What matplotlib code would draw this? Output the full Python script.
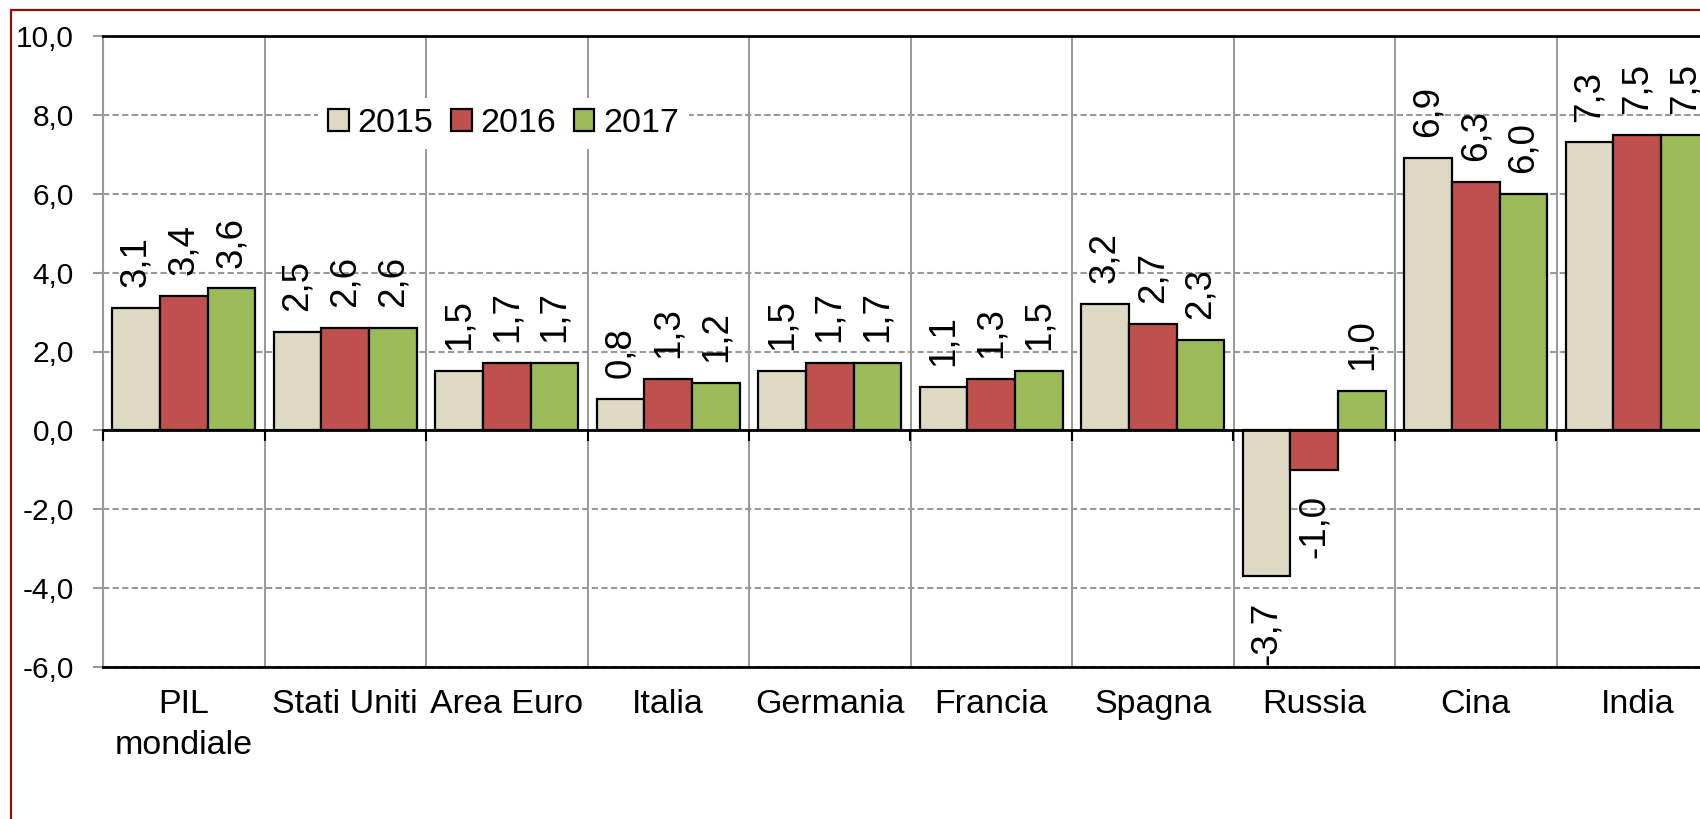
import numpy as np
import matplotlib
matplotlib.use('Agg')
import matplotlib.pyplot as plt
from matplotlib.patches import Rectangle

matplotlib.rcParams['font.family'] = ['Liberation Sans', 'DejaVu Sans']

categories = ['PIL\nmondiale', 'Stati Uniti', 'Area Euro', 'Italia', 'Germania',
              'Francia', 'Spagna', 'Russia', 'Cina', 'India']
years = ['2015', '2016', '2017']
v2015 = [3.1, 2.5, 1.5, 0.8, 1.5, 1.1, 3.2, -3.7, 6.9, 7.3]
v2016 = [3.4, 2.6, 1.7, 1.3, 1.7, 1.3, 2.7, -1.0, 6.3, 7.5]
v2017 = [3.6, 2.6, 1.7, 1.2, 1.7, 1.5, 2.3, 1.0, 6.0, 7.5]
colors = ['#DDD9C3', '#C0504D', '#9BBB59']

W, H = 1700, 819
fig = plt.figure(figsize=(W / 100, H / 100), dpi=100)
ax = fig.add_axes([103 / W, 1 - 667 / H, (1718 - 103) / W, (667 - 36) / H])

x = np.arange(len(categories))
w = 0.295
ymin, ymax = -6, 10

for i, (vals, col, lab) in enumerate(zip([v2015, v2016, v2017], colors, years)):
    bars = ax.bar(x + (i - 1) * w, vals, w, color=col, edgecolor='black',
                  linewidth=1.6, label=lab, zorder=3)
    for b, v in zip(bars, vals):
        cx = b.get_x() + b.get_width() / 2
        txt = f'{v:.1f}'.replace('.', ',')
        if v >= 0:
            ax.annotate(txt, (cx, v), xytext=(0, 15), textcoords='offset points',
                        rotation=90, ha='center', va='bottom', fontsize=26.5, zorder=4)
        else:
            ax.annotate(txt, (cx, v), xytext=(0, -18), textcoords='offset points',
                        rotation=90, ha='center', va='top', fontsize=26.5, zorder=4)

ax.set_xlim(-0.5, len(categories) - 0.5)
ax.set_ylim(ymin, ymax)
ax.set_yticks(np.arange(ymin, ymax + 1, 2))
ax.set_yticklabels([f'{t:.1f}'.replace('.', ',') for t in np.arange(ymin, ymax + 1, 2)],
                   fontsize=21.5)
ax.tick_params(axis='y', length=7, width=1.5, color='#999999', pad=14)

ax.set_xticks(x)
ax.set_xticklabels(categories, fontsize=24.5, linespacing=1.4)
ax.tick_params(axis='x', length=0, pad=16)

# separators between groups
for b in np.arange(-0.5, len(categories), 1.0):
    ax.axvline(b, color='#999999', linewidth=1.4, zorder=1)

ax.yaxis.grid(True, color='#999999', linestyle=(0, (3, 1.6)), linewidth=1.5, zorder=0)
ax.set_axisbelow(True)

for s in ['top', 'bottom']:
    ax.spines[s].set_color('black')
    ax.spines[s].set_linewidth(2)
ax.spines['left'].set_color('#999999')
ax.spines['left'].set_linewidth(1.5)
ax.spines['right'].set_visible(False)

# zero axis with category ticks
zero = ax.secondary_xaxis((0 - ymin) / (ymax - ymin))
zero.set_xticks(np.arange(-0.5, len(categories), 1.0))
zero.set_xticklabels([])
zero.tick_params(axis='x', direction='out', length=8, width=1.5, color='black')
zero.spines['bottom'].set_color('black')
zero.spines['bottom'].set_linewidth(2)
zero.set_zorder(5)

leg = ax.legend(loc='center left', bbox_to_anchor=(0.133, 0.861), ncol=3,
                fontsize=24.5, frameon=True, facecolor='white', edgecolor='none',
                framealpha=1, handlelength=0.61, handleheight=0.61,
                handletextpad=0.26, columnspacing=0.51, borderpad=0.3,
                borderaxespad=0)
for h in leg.legend_handles:
    h.set_linewidth(1.6)
leg.set_zorder(6)

fig.patches.append(Rectangle((10.5 / W, -0.1), 1.2, 1.1 - 10.5 / H,
                             transform=fig.transFigure, fill=False,
                             edgecolor='#8B1010', linewidth=1.6))

fig.savefig('out.png', dpi=100)
